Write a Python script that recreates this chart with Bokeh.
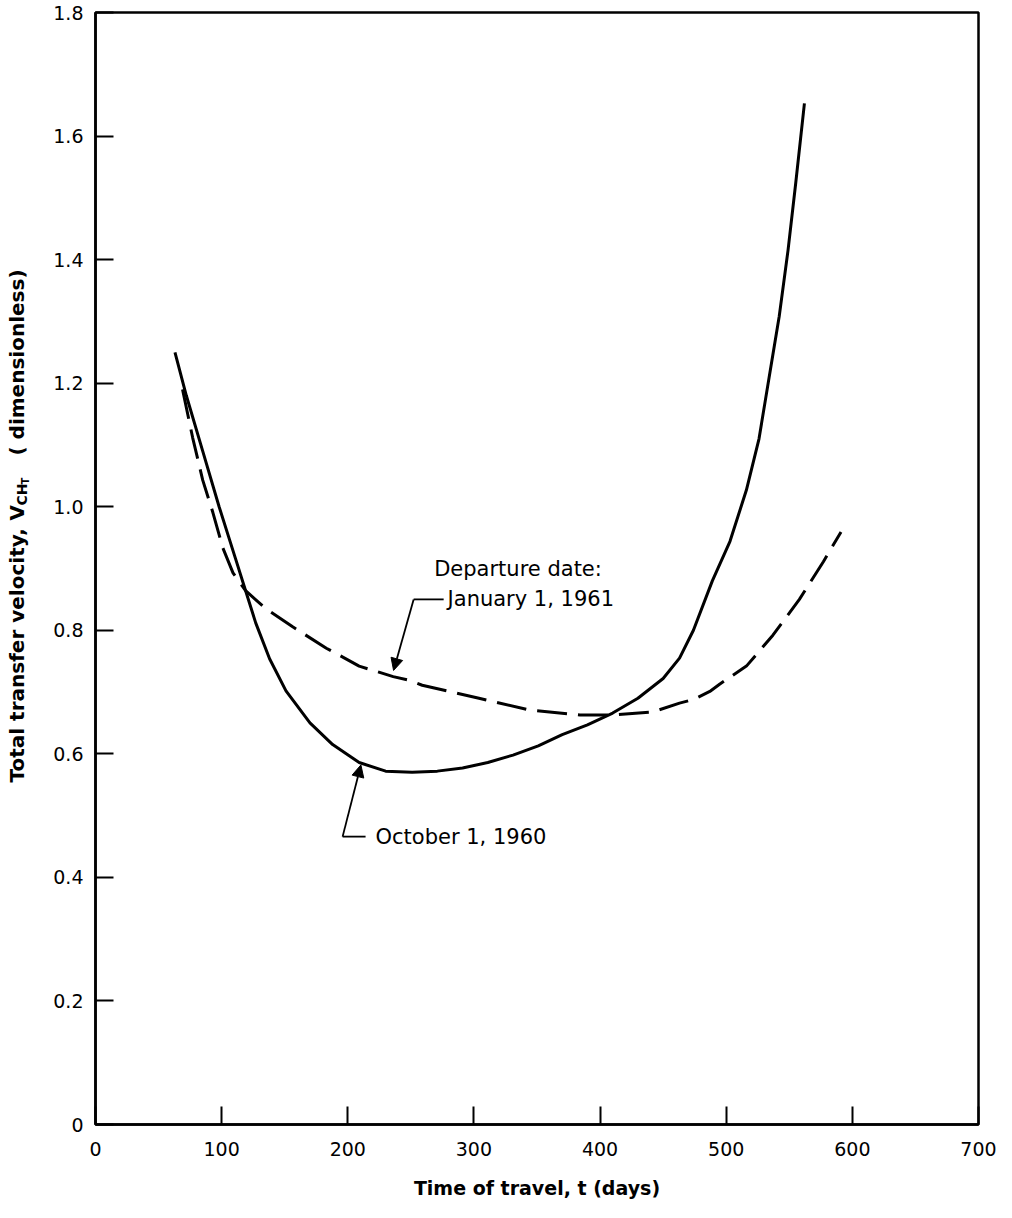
from bokeh.plotting import figure
from bokeh.models import Range1d, FixedTicker, Label, Arrow, NormalHead
from bokeh.layouts import row
from bokeh.embed import file_html
from bokeh.resources import INLINE
from math import pi

# ---- data ----
t_oct = [63, 72, 85, 98, 111, 119, 127, 138, 151, 170, 188, 209, 230, 251, 271,
         291, 311, 331, 351, 370, 390, 410, 430, 450, 463, 474, 489, 503, 516,
         526, 534, 542, 549, 555, 562]
v_oct = [1.25, 1.18, 1.09, 1.00, 0.916, 0.864, 0.812, 0.754, 0.702, 0.650, 0.615,
         0.586, 0.572, 0.570, 0.572, 0.577, 0.586, 0.598, 0.613, 0.631, 0.647,
         0.666, 0.690, 0.722, 0.755, 0.800, 0.880, 0.944, 1.027, 1.110, 1.209,
         1.308, 1.415, 1.522, 1.653]

t_jan = [69, 77, 85, 93, 101, 109, 119, 135, 156, 183, 209, 236, 249, 259, 304,
         344, 384, 410, 442, 463, 474, 487, 495, 516, 537, 558, 577, 591]
v_jan = [1.19, 1.112, 1.043, 0.991, 0.933, 0.893, 0.864, 0.835, 0.806, 0.771,
         0.742, 0.725, 0.719, 0.711, 0.690, 0.671, 0.663, 0.663, 0.668, 0.682,
         0.688, 0.701, 0.713, 0.742, 0.792, 0.850, 0.911, 0.959]

x_ticks = [0, 100, 200, 300, 400, 500, 600, 700]
y_ticks = [0, 0.2, 0.4, 0.6, 0.8, 1.0, 1.2, 1.4, 1.6, 1.8]
y_tick_labels = ["0", "0.2", "0.4", "0.6", "0.8", "1.0", "1.2", "1.4", "1.6", "1.8"]

jan_label_1 = "Departure date:"
jan_label_2 = "January 1, 1961"
oct_label = "October 1, 1960"
x_title = "Time of travel, t (days)"
y_title_main = "Total transfer velocity,"
y_title_v = "V"
y_title_sub = "CH"
y_title_subsub = "T"
y_title_tail = "( dimensionless)"

# leader lines (data coords)
jan_leader_t = [276, 252.2]
jan_leader_v = [0.850, 0.850]
jan_tip = (236.3, 0.735)
oct_leader_t = [214.1, 195.9]
oct_leader_v = [0.466, 0.466]
oct_tip = (210.4, 0.582)

FONT = "DejaVu Sans"

H = 1203
LW = 30                      # narrow panel holding the rotated y title
W = 970
ML, MR, MT, MB = 65, 22, 12, 79

p = figure(width=W, height=H, x_range=Range1d(0, 700), y_range=Range1d(0, 1.8),
           output_backend="svg", toolbar_location=None,
           min_border_left=ML, min_border_right=MR, min_border_top=MT,
           min_border_bottom=MB)
p.xgrid.visible = False
p.ygrid.visible = False
p.background_fill_color = "white"
p.border_fill_color = "white"
p.outline_line_color = "black"
p.outline_line_width = 2.5
p.outline_line_alpha = 1.0

xa = p.xaxis[0]
ya = p.yaxis[0]
xa.ticker = FixedTicker(ticks=x_ticks)
ya.ticker = FixedTicker(ticks=y_ticks)
ya.major_label_overrides = {v: s for v, s in zip(y_ticks, y_tick_labels)}
for ax in (xa, ya):
    ax.axis_line_color = "black"
    ax.axis_line_width = 2.5
    ax.major_tick_in = 18
    ax.major_tick_out = 0
    ax.major_tick_line_width = 2
    ax.major_tick_line_color = "black"
    ax.minor_tick_line_color = None
    ax.major_label_text_font = FONT
    ax.major_label_text_font_size = "19px"
    ax.major_label_text_color = "black"
xa.major_label_standoff = 17
ya.major_label_standoff = 12
xa.axis_label = x_title
xa.axis_label_text_font = FONT
xa.axis_label_text_font_size = "19px"
xa.axis_label_text_font_style = "bold"
xa.axis_label_text_color = "black"
xa.axis_label_standoff = 18

# curves
p.line(t_oct, v_oct, line_color="black", line_width=3)
p.line(t_jan, v_jan, line_color="black", line_width=3, line_dash="30 11")

# annotations
p.line(jan_leader_t, jan_leader_v, line_color="black", line_width=1.8)
p.add_layout(Arrow(end=NormalHead(size=12, fill_color="black", line_color="black"),
                   x_start=jan_leader_t[1], y_start=jan_leader_v[1],
                   x_end=jan_tip[0], y_end=jan_tip[1],
                   line_color="black", line_width=1.8))
p.line(oct_leader_t, oct_leader_v, line_color="black", line_width=1.8)
p.add_layout(Arrow(end=NormalHead(size=12, fill_color="black", line_color="black"),
                   x_start=oct_leader_t[1], y_start=oct_leader_v[1],
                   x_end=oct_tip[0], y_end=oct_tip[1],
                   line_color="black", line_width=1.8))

def lab(fig, x, y, text, size="21px", **kw):
    fig.add_layout(Label(x=x, y=y, text=text, text_font=FONT, text_font_size=size,
                         text_color="black", **kw))

lab(p, 268.5, 0.900, jan_label_1, text_baseline="middle", text_align="left")
lab(p, 279.1, 0.850, jan_label_2, text_baseline="middle", text_align="left")
lab(p, 222.0, 0.466, oct_label, text_baseline="middle", text_align="left")

# ---- narrow left panel with the rotated y-axis title ----
# its frame is aligned with the main frame (canvas y from MT to H-MB), so the
# y range is chosen so that data y == H - canvas_y (pixel units)
q = figure(width=LW, height=H, x_range=Range1d(0, LW), y_range=Range1d(MB, H - MT),
           output_backend="svg", toolbar_location=None,
           x_axis_location=None, y_axis_location=None,
           min_border_left=0, min_border_right=0, min_border_top=MT,
           min_border_bottom=MB)
q.grid.visible = False
q.outline_line_color = None
q.background_fill_color = "white"
q.border_fill_color = "white"

def py(canvas_y_from_top):
    return H - canvas_y_from_top

base_x = 16
y_main = 782      # start of "Total transfer velocity," (canvas y from top)
y_v = 520         # start of "V"
y_sub = 505       # start of "CH"
y_subsub = 484    # start of "T"
y_tail = 455      # start of "( dimensionless)"
rot = dict(angle=pi / 2, text_align="left", text_baseline="alphabetic",
           text_font_style="bold")
lab(q, base_x, py(y_main), y_title_main, size="20px", **rot)
lab(q, base_x, py(y_v), y_title_v, size="20px", **rot)
lab(q, base_x + 5, py(y_sub), y_title_sub, size="14px", **rot)
lab(q, base_x + 9, py(y_subsub), y_title_subsub, size="10px", **rot)
lab(q, base_x, py(y_tail), y_title_tail, size="20px", **rot)

layout = row(q, p)
open("out.html", "w").write(file_html(layout, INLINE))
